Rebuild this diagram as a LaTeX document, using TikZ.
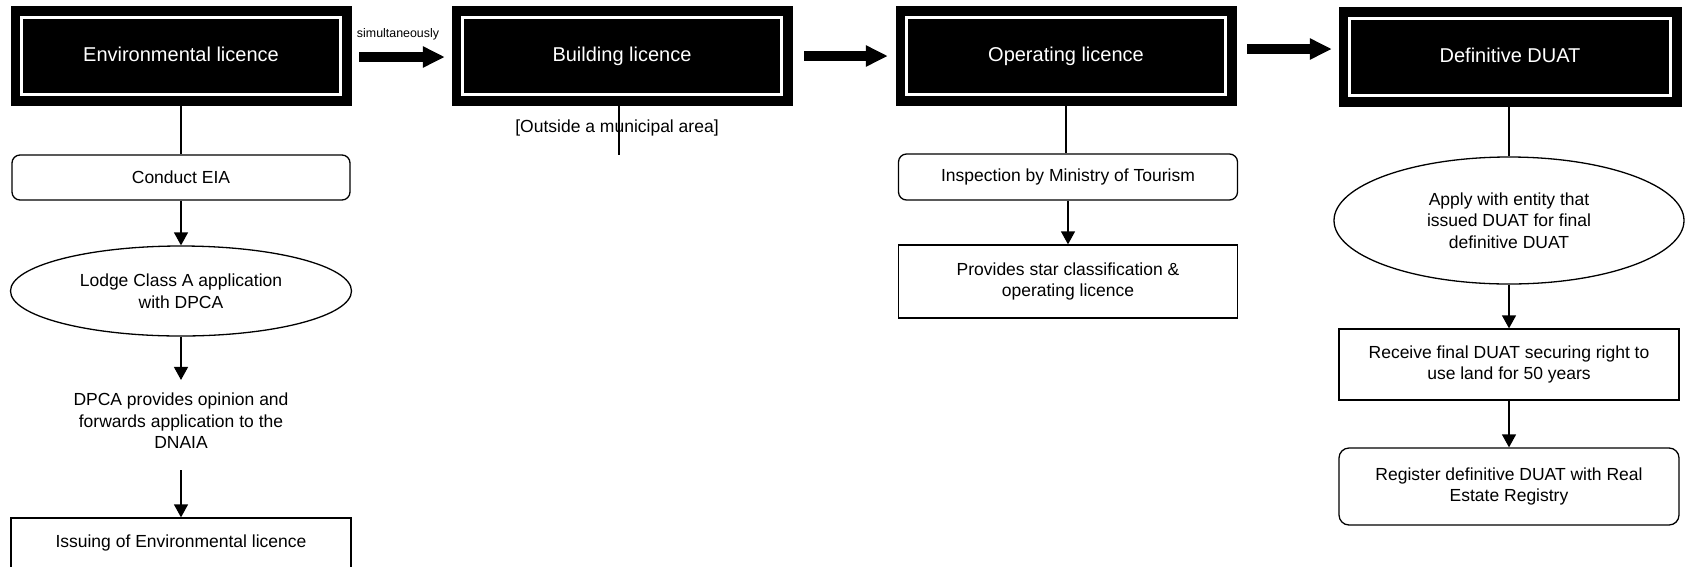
\documentclass[tikz,border=0pt]{standalone}
\usepackage{fontspec}
\setmainfont{Liberation Sans}
\usetikzlibrary{arrows.meta,shapes.geometric,calc}

\begin{document}
\begin{tikzpicture}[x=1pt,y=-1pt,
  every node/.style={font=\fontsize{17.5}{21.5}\selectfont, align=center, inner sep=0pt},
  titlebox/.style={fill=black, draw=black, minimum width=340pt, minimum height=99pt, text=white,
    font=\fontsize{20}{24}\selectfont, text height=15pt, text depth=4pt},
  rbox/.style={draw, line width=1.3pt, rounded corners=8pt, minimum width=338pt, minimum height=45pt},
  sbox/.style={draw, line width=1.3pt, minimum width=339pt},
  oval/.style={draw, ellipse, line width=1.3pt},
  conn/.style={line width=1.3pt},
  arr/.style={line width=1.3pt, -{Triangle[length=13pt,width=14pt]}},
  fat/.style={line width=10pt, -{Triangle[length=22pt,width=20pt]}},
  innerline/.style={draw=white, line width=3pt}
]
\useasboundingbox[fill=white] (0,0) rectangle (1689,566);

% title boxes
\node[titlebox] (env) at (181,55.5) {Environmental licence};
\node[titlebox] (bld) at (622,55.5) {Building licence};
\node[titlebox] (op) at (1066,55.5) {Operating licence};
\node[titlebox, minimum width=342pt] (duat) at (1510,56.5) {Definitive DUAT};
\foreach \n in {env,bld,op,duat}{
  \draw[innerline] ([shift={(10.5,12)}]\n.north west) rectangle ([shift={(-10.5,-11)}]\n.south east);
}

% fat arrows
\node[font=\fontsize{12.4}{14}\selectfont] (sim) at (398,34) {simultaneously};
\draw[fat] ($(env.east)+(8,1.5)$) -- ($(bld.west)+(-7,1.5)$);
\draw[fat] ($(bld.east)+(12,0.5)$) -- ($(op.west)+(-8,0.5)$);
\draw[fat] ($(op.east)+(11,-6.5)$) -- ($(op.east -| duat.west)+(-7,-6.5)$);

% column 1
\node[rbox] (eia) at (181,177.5) {Conduct EIA};
\node[oval, minimum width=341pt, minimum height=90pt] (lodge) at (181,291) {Lodge Class A application\\with DPCA};
\node (dpca) at (181,421) {DPCA provides opinion and\\forwards application to the\\DNAIA};
\node[sbox, minimum width=340pt, minimum height=50pt] (issue) at (181,543) {Issuing of Environmental licence};
\draw[conn] (env.south) -- (eia.north);
\draw[arr] (eia.south) -- (lodge.north);
\draw[arr] (lodge.south) -- ([yshift=13pt]dpca.north);
\draw[arr] ([yshift=-21pt]dpca.south) -- (issue.north);

% column 2
\node (outside) at (617,128) {[Outside a municipal area]};
\coordinate (bldend) at (619,155);
\draw[conn] (bld.south -| bldend) -- (bldend);

% column 3
\node[rbox, minimum width=339pt, minimum height=46pt] (insp) at (1068,177) {Inspection by Ministry of Tourism};
\node[sbox, minimum height=73pt] (prov) at (1068,281.5) {Provides star classification \&\\operating licence};
\draw[conn] (op.south) -- (op.south |- insp.north);
\draw[arr] (insp.south) -- (prov.north);

% column 4
\node[oval, minimum width=350pt, minimum height=127pt] (apply) at (1509,220.5) {Apply with entity that\\issued DUAT for final\\definitive DUAT};
\node[sbox, minimum width=340pt, minimum height=71pt] (recv) at (1509,364.5) {Receive final DUAT securing right to\\use land for 50 years};
\node[rbox, minimum width=340pt, minimum height=77pt, rounded corners=10pt] (reg) at (1509,486.5) {Register definitive DUAT with Real\\Estate Registry};
\draw[conn] (duat.south -| apply.north) -- (apply.north);
\draw[arr] (apply.south) -- (recv.north);
\draw[arr] (recv.south) -- (reg.north);
\end{tikzpicture}
\end{document}
